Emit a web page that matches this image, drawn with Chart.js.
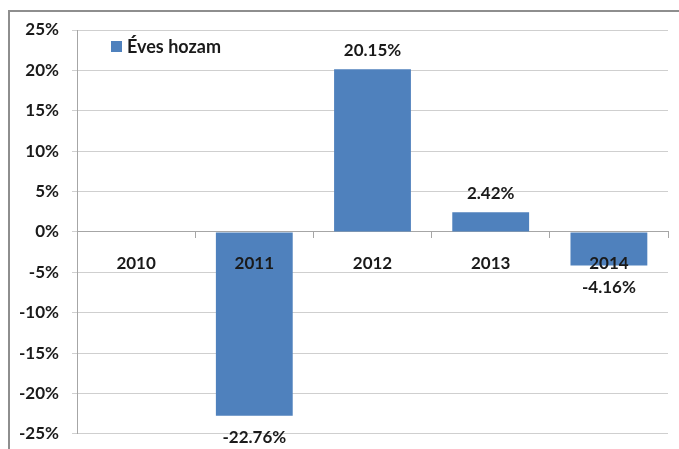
<!DOCTYPE html>
<html>
<head>
<meta charset="utf-8">
<script src="https://cdn.jsdelivr.net/npm/chart.js@4"></script>
<style>
  html, body { margin: 0; padding: 0; background: #fff; }
  #wrap { position: relative; width: 679px; height: 449px; overflow: hidden; }
  #frame { position: absolute; left: 8px; top: 10px; width: 700px; height: 460px;
           border-left: 2px solid #8e8e8e; border-top: 2px solid #8e8e8e; }
  canvas { position: absolute; left: 0; top: 0; }
</style>
</head>
<body>
<div id="wrap">
  <div id="frame"></div>
  <canvas id="chart" width="679" height="457"></canvas>
</div>
<script>
// adatok
const years = ['2010', '2011', '2012', '2013', '2014'];
const returns = [null, -22.76, 20.15, 2.42, -4.16];
const seriesName = 'Éves hozam';
const barColor = '#4f81bd';
const fontFamily = 'Lato, "Open Sans", sans-serif';

// Címkék a oszlopok fölé / alá
const valueLabels = {
  id: 'valueLabels',
  afterDraw(chart) {
    const ctx = chart.ctx;
    const meta = chart.getDatasetMeta(0);
    ctx.save();
    ctx.font = 'bold 17px ' + fontFamily;
    ctx.fillStyle = '#1a1a1a';
    ctx.textAlign = 'center';
    ctx.textBaseline = 'middle';
    meta.data.forEach((bar, i) => {
      const v = returns[i];
      if (v === null) return;
      const y = v >= 0 ? bar.y - 19 : bar.y + 22;
      ctx.fillText(v.toFixed(2) + '%', bar.x, y);
    });
    ctx.restore();
  }
};

// Jelmagyarázat a diagram belsejében
const innerLegend = {
  id: 'innerLegend',
  afterDraw(chart) {
    const ctx = chart.ctx;
    ctx.save();
    ctx.fillStyle = barColor;
    ctx.fillRect(111, 41, 11, 11);
    ctx.font = 'bold 18px ' + fontFamily;
    ctx.fillStyle = '#1a1a1a';
    ctx.textBaseline = 'middle';
    ctx.fillText(seriesName, 127, 47);
    ctx.restore();
  }
};

new Chart(document.getElementById('chart'), {
  type: 'bar',
  data: {
    labels: years,
    datasets: [{
      label: seriesName,
      data: returns,
      backgroundColor: barColor,
      borderWidth: 0,
      categoryPercentage: 1,
      barPercentage: 0.65
    }]
  },
  options: {
    responsive: false,
    animation: false,
    layout: { padding: { left: 0, right: 11, top: 30, bottom: 8 } },
    plugins: {
      legend: { display: false },
      tooltip: { enabled: false }
    },
    scales: {
      x: {
        position: { y: 0 },
        offset: true,
        grid: { offset: true, drawOnChartArea: false, tickLength: 6, color: '#a6a6a6' },
        border: { display: true, color: '#a6a6a6', width: 1 },
        ticks: { z: 1, color: '#1a1a1a', font: { family: fontFamily, size: 17, weight: 'bold' }, padding: 15, maxRotation: 0 }
      },
      y: {
        min: -25,
        max: 25,
        afterFit(scale) { scale.width = 77; },
        grid: { color: '#cfcfcf', tickLength: 5 },
        border: { display: true, color: '#a6a6a6' },
        ticks: {
          stepSize: 5,
          color: '#1a1a1a',
          padding: 13,
          font: { family: fontFamily, size: 17, weight: 'bold' },
          callback: v => v + '%'
        }
      }
    }
  },
  plugins: [valueLabels, innerLegend]
});
</script>
</body>
</html>
